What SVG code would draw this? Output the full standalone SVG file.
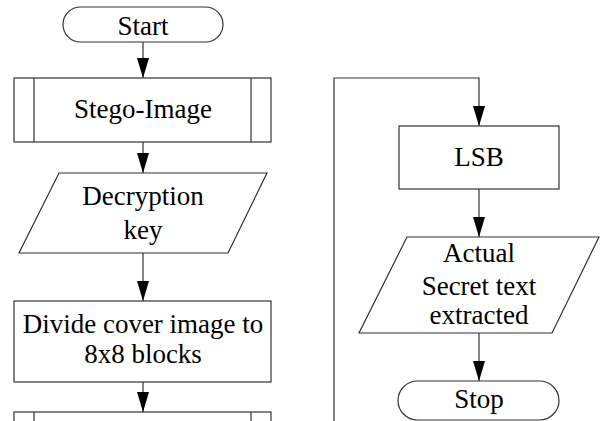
<svg xmlns="http://www.w3.org/2000/svg" width="600" height="421" viewBox="0 0 600 421">
<defs>
<style>
.s{fill:#fff;stroke:#333;stroke-width:1.2}
.l{fill:none;stroke:#333;stroke-width:1.2}
.t{font-size:27px;fill:#000;text-anchor:middle}
</style>
<marker id="ah" markerUnits="userSpaceOnUse" markerWidth="20" markerHeight="12" refX="20" refY="6" orient="auto" viewBox="0 0 20 12">
<path d="M0,0 L20,6 L0,12 Z" fill="#000"/>
</marker>
</defs>
<rect width="600" height="421" fill="#fff"/>
<g id="connectors">
<line class="l" x1="143" y1="42" x2="143" y2="78" marker-end="url(#ah)"/>
<line class="l" x1="143" y1="142" x2="143" y2="173" marker-end="url(#ah)"/>
<line class="l" x1="143" y1="253" x2="143" y2="301" marker-end="url(#ah)"/>
<line class="l" x1="143" y1="382" x2="143" y2="412" marker-end="url(#ah)"/>
<polyline class="l" points="334,421 334,78 479,78 479,126" marker-end="url(#ah)"/>
<line class="l" x1="479" y1="189" x2="479" y2="237" marker-end="url(#ah)"/>
<line class="l" x1="479" y1="333" x2="479" y2="381" marker-end="url(#ah)"/>
</g>
<g font-family="'Liberation Serif', 'Times New Roman', serif">
<g id="start">
<rect class="s" x="63" y="7" width="160" height="35" rx="17.5"/>
<text class="t" x="143" y="35">Start</text>
</g>
<g id="stego-image">
<rect class="s" x="14" y="78" width="257" height="64"/>
<line class="l" x1="34" y1="78" x2="34" y2="142"/>
<line class="l" x1="251" y1="78" x2="251" y2="142"/>
<text class="t" x="143" y="118">Stego-Image</text>
</g>
<g id="decryption-key">
<polygon class="s" points="59,173 267,173 228,253 19,253"/>
<text class="t" x="143" y="205">Decryption</text>
<text class="t" x="143" y="239">key</text>
</g>
<g id="divide">
<rect class="s" x="14" y="301" width="257" height="81"/>
<text class="t" x="143" y="333">Divide cover image to</text>
<text class="t" x="143" y="363">8x8 blocks</text>
</g>
<g id="next-process">
<rect class="s" x="14" y="412" width="257" height="64"/>
<line class="l" x1="34" y1="412" x2="34" y2="476"/>
<line class="l" x1="251" y1="412" x2="251" y2="476"/>
</g>
<g id="lsb">
<rect class="s" x="399" y="126" width="160" height="63"/>
<text class="t" x="479" y="166">LSB</text>
</g>
<g id="secret-text">
<polygon class="s" points="407,237 599,237 552,333 359,333"/>
<text class="t" x="479" y="262">Actual</text>
<text class="t" x="479" y="295">Secret text</text>
<text class="t" x="479" y="324">extracted</text>
</g>
<g id="stop">
<rect class="s" x="398" y="381" width="161" height="39" rx="19.5"/>
<text class="t" x="479" y="408">Stop</text>
</g>
</g>
</svg>
